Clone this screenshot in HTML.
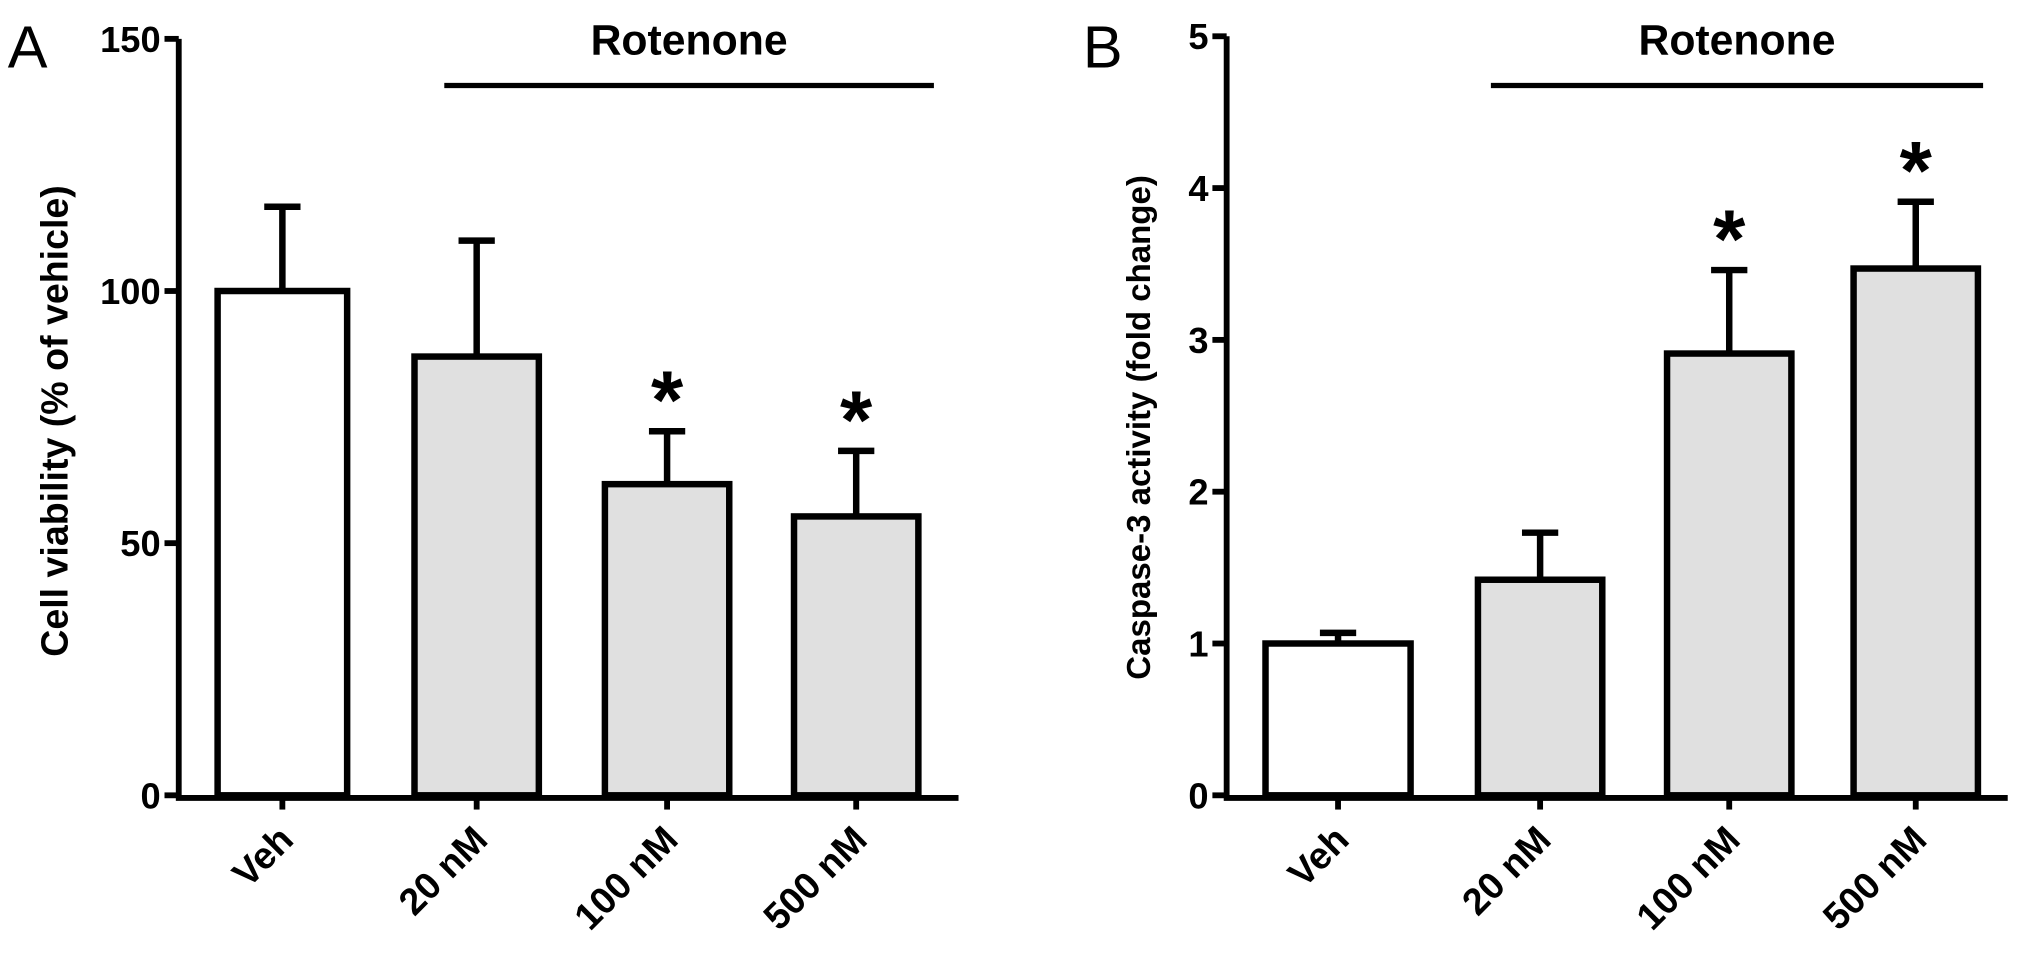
<!DOCTYPE html>
<html><head><meta charset="utf-8"><style>
body{margin:0;background:#fff}
svg{display:block;font-family:"Liberation Sans",Arial,sans-serif;font-weight:bold}
</style></head><body>
<svg id="c" width="2031" height="957"><g id="root" transform="scale(1.2953)"></g></svg>
<script>
const categories=["Veh","20 nM","100 nM","500 nM"];
const viabilityValues=[100,87,61.7,55.3];
const viabilityErrors=[16.7,23,10.5,13];
const viabilitySig=[false,false,true,true];
const viabilityTicks=[0,50,100,150];
const caspaseValues=[1.0,1.42,2.91,3.47];
const caspaseErrors=[0.07,0.31,0.55,0.44];
const caspaseSig=[false,false,true,true];
const caspaseTicks=[0,1,2,3,4,5];
const NS="http://www.w3.org/2000/svg";
const svg=document.getElementById('root');
function mk(t,a,p){const e=document.createElementNS(NS,t);for(const k in a)e.setAttribute(k,a[k]);(p||svg).appendChild(e);return e;}
function panel(o){
  const g=mk('g',{});
  
  
  const y=v=>o.y0-(v-o.min)/(o.max-o.min)*(o.y0-o.y1);
  const ax=mk('path',{d:`M${o.ax},${o.y1} V${o.y0+2} H${o.xEnd}`,stroke:'#000','stroke-width':4.5,fill:'none'},g);
  
  
  o.ticks.forEach(t=>{
    const l=mk('line',{x1:o.ax-11,x2:o.ax,y1:y(t),y2:y(t),stroke:'#000','stroke-width':4.5},g);
    
    
    const tx=mk('text',{x:o.ax-14,y:y(t)+10,'text-anchor':'end','font-size':28},g);
    tx.textContent=t;
    
    
  });
  o.vals.forEach((v,i)=>{
    const x=o.bx[i],w=o.bw[i],cx=x+w/2;
    const e=mk('path',{d:`M${cx},${y(v)} V${y(v+o.errs[i])} M${cx-14},${y(v+o.errs[i])} H${cx+14}`,stroke:'#000','stroke-width':5,fill:'none'},g);
    
    
    const r=mk('rect',{x:x,y:y(v),width:w,height:o.y0-y(v),fill:i===0?'#fff':'#e0e0e0',stroke:'#000','stroke-width':5},g);
    
    
    const tk=mk('line',{x1:cx,x2:cx,y1:o.y0,y2:o.y0+11,stroke:'#000','stroke-width':4.5},g);
    
    
    const lb=mk('text',{x:cx+10,y:o.y0+36,'text-anchor':'end','font-size':29,transform:`rotate(-45 ${cx+10} ${o.y0+36})`},g);
    lb.textContent=categories[i];
    
    
    if(o.sig[i]){
      const s=mk('text',{x:cx,y:y(v+o.errs[i])-2,'text-anchor':'middle','font-size':64},g);
      s.textContent='*';
      
      
    }
  });
  const rl=mk('line',{x1:o.rot[0],x2:o.rot[1],y1:66,y2:66,stroke:'#000','stroke-width':4},g);
  
  
  const rt=mk('text',{x:(o.rot[0]+o.rot[1])/2,y:42,'text-anchor':'middle','font-size':33},g);
  rt.textContent='Rotenone';
  
  
  const yt=mk('text',{x:o.titleX,y:o.titleY,'text-anchor':'middle','font-size':o.titleSize,transform:`rotate(-90 ${o.titleX} ${o.titleY})`},g);
  yt.textContent=o.title;
  
  
  const pl=mk('text',{x:o.letterX,y:52,'font-size':46,'font-weight':'normal'},g);
  pl.textContent=o.letter;
  
  
}
panel({name:'panel-a-viability',ax:138,xEnd:740,y0:614,y1:30,min:0,max:150,ticks:viabilityTicks,vals:viabilityValues,errs:viabilityErrors,sig:viabilitySig,
  bx:[168,320,467,613],bw:[100,96,96,96],rot:[343,721],title:'Cell viability (% of vehicle)',titleX:52,titleY:325,titleSize:29,letter:'A',letterX:6});
panel({name:'panel-b-caspase',ax:947,xEnd:1550,y0:614,y1:28,min:0,max:5,ticks:caspaseTicks,vals:caspaseValues,errs:caspaseErrors,sig:caspaseSig,
  bx:[977,1141,1287,1431],bw:[112,96,96,96],rot:[1151,1531],title:'Caspase-3 activity (fold change)',titleX:888,titleY:330,titleSize:25.5,letter:'B',letterX:836});
</script>
</body></html>
